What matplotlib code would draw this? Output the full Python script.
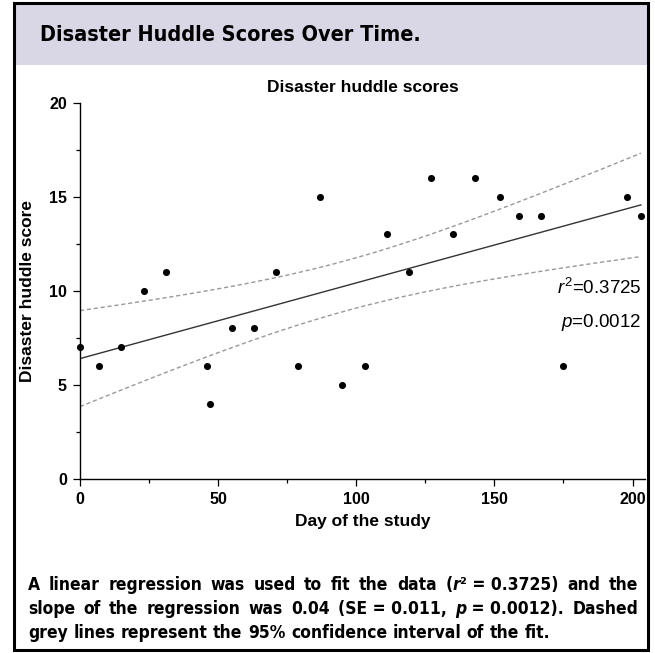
import numpy as np
import matplotlib
matplotlib.use("Agg")
import matplotlib.pyplot as plt
from matplotlib import font_manager
from matplotlib.patches import Rectangle
from matplotlib.transforms import IdentityTransform
from matplotlib.ticker import MultipleLocator

# data
days = [0, 7, 15, 23, 31, 46, 47, 55, 63, 71, 79, 87, 95, 103, 111, 119,
        127, 135, 143, 152, 159, 167, 175, 198, 203]
scores = [7, 6, 7, 10, 11, 6, 4, 8, 8, 11, 6, 15, 5, 6, 13, 11,
          16, 13, 16, 15, 14, 14, 6, 15, 14]
x_ticks = [0, 50, 100, 150, 200]
y_ticks = [0, 5, 10, 15, 20]
r2_text = "0.3725"
p_text = "0.0012"
header = "Disaster Huddle Scores Over Time."
t_crit = 2.069  # t(0.975, df=23)

names = {f.name for f in font_manager.fontManager.ttflist}
if "Liberation Sans Narrow" in names:
    narrow, stretch = "Liberation Sans Narrow", "normal"
else:
    narrow, stretch = "DejaVu Sans", "condensed"
sans = "Liberation Sans"

plt.rcParams["mathtext.fontset"] = "custom"
plt.rcParams["mathtext.rm"] = sans
plt.rcParams["mathtext.it"] = sans + ":italic"

W, H = 655, 653
fig = plt.figure(figsize=(W / 100, H / 100), dpi=100)
renderer = fig.canvas.get_renderer()
px = IdentityTransform()

# header band + outer frame (pixel coords, y measured from bottom)
fig.patches.append(Rectangle((14, H - 65), 634, 62, transform=px,
                             facecolor="#d9d6e5", edgecolor="none", zorder=0))
fig.patches.append(Rectangle((14, H - 650), 634, 647, transform=px,
                             facecolor="none", edgecolor="black", lw=2.2, zorder=5))

fig.text(40, H - 35, header, transform=px, family=narrow,
         fontstretch=stretch, weight="bold", fontsize=15.5, va="center", ha="left")

# axes
ax = fig.add_axes([80 / W, (H - 479) / H, (645 - 80) / W, (479 - 102.7) / H])
x = np.array(days, float)
y = np.array(scores, float)
slope, intercept = np.polyfit(x, y, 1)
n = len(x)
resid = y - (slope * x + intercept)
s = np.sqrt(np.sum(resid ** 2) / (n - 2))
sxx = np.sum((x - x.mean()) ** 2)
xx = np.linspace(x.min(), x.max(), 200)
fit = slope * xx + intercept
band = t_crit * s * np.sqrt(1 / n + (xx - x.mean()) ** 2 / sxx)

ax.plot(xx, fit, color="#333333", lw=1.0, zorder=2)
ax.plot(xx, fit + band, color="#999999", lw=1.0, ls=(0, (3, 2)), zorder=2)
ax.plot(xx, fit - band, color="#999999", lw=1.0, ls=(0, (3, 2)), zorder=2)
ax.scatter(x, y, s=26, color="black", zorder=3, clip_on=False, lw=0)

ax.set_xlim(0, 204.5)
ax.set_ylim(0, 20)
ax.set_xticks(x_ticks)
ax.set_yticks(y_ticks)
ax.xaxis.set_minor_locator(MultipleLocator(25))
ax.yaxis.set_minor_locator(MultipleLocator(2.5))
for sp in ["top", "right"]:
    ax.spines[sp].set_visible(False)
for sp in ["left", "bottom"]:
    ax.spines[sp].set_linewidth(1.0)
ax.tick_params(which="major", length=5, width=0.9, pad=4.5)
ax.tick_params(which="minor", length=3, width=0.9)
for lab in ax.get_xticklabels() + ax.get_yticklabels():
    lab.set_fontfamily(sans)
    lab.set_fontweight("bold")
    lab.set_fontsize(11.5)

ax.set_title("Disaster huddle scores", family=sans, weight="bold", fontsize=12.5, pad=8)
ax.set_xlabel("Day of the study", family=sans, weight="bold", fontsize=12.5, labelpad=5)
ax.set_ylabel("Disaster huddle score", family=sans, weight="bold", fontsize=12.5)
ax.yaxis.set_label_coords(-0.08, 0.5)

ax.text(203, 10.15, r"$r^2$=" + r2_text, family=sans, fontsize=13.5, ha="right", va="center")
ax.text(203, 8.3, r"$p$=" + p_text, family=sans, fontsize=13.5, ha="right", va="center")

# caption, justified by hand
cap_size = 12.5
N, I = "normal", "italic"
lines = [
    ([[("A", N)], [("linear", N)], [("regression", N)], [("was", N)], [("used", N)],
      [("to", N)], [("fit", N)], [("the", N)], [("data", N)],
      [("(", N), ("r", I), ("\u00b2 = " + r2_text + ")", N)], [("and", N)], [("the", N)]], True),
    ([[("slope", N)], [("of", N)], [("the", N)], [("regression", N)], [("was", N)],
      [("0.04", N)], [("(SE = 0.011,", N)], [("p", I), (" = " + p_text + ").", N)],
      [("Dashed", N)]], True),
    ([[(w, N)] for w in "grey lines represent the 95% confidence interval of the fit.".split()], False),
]
x0, x1 = 28, 638
baselines = [H - 590, H - 614, H - 638]


def seg_text(xp, yp, txt, style):
    return fig.text(xp, yp, txt, transform=px, family=narrow,
                    fontstretch=stretch, weight="bold", style=style,
                    fontsize=cap_size, va="baseline", ha="left")


def width_of(txt):
    t = seg_text(0, 300, txt, N)
    w = t.get_window_extent(renderer).width
    t.remove()
    return w


space_w = width_of("a a") - width_of("aa")

for (words, justify), yb in zip(lines, baselines):
    objs = []
    widths = []
    for word in words:
        parts = []
        wsum = 0
        for txt, style in word:
            t = seg_text(0, yb, txt, style)
            w = t.get_window_extent(renderer).width
            parts.append((t, w))
            wsum += w
        objs.append(parts)
        widths.append(wsum)
    if justify:
        gap = (x1 - x0 - sum(widths)) / (len(words) - 1)
    else:
        gap = space_w
    xp = x0
    for parts, w in zip(objs, widths):
        xc = xp
        for t, wpart in parts:
            t.set_x(xc)
            xc += wpart
        xp += w + gap

fig.savefig("out.png", dpi=100)
